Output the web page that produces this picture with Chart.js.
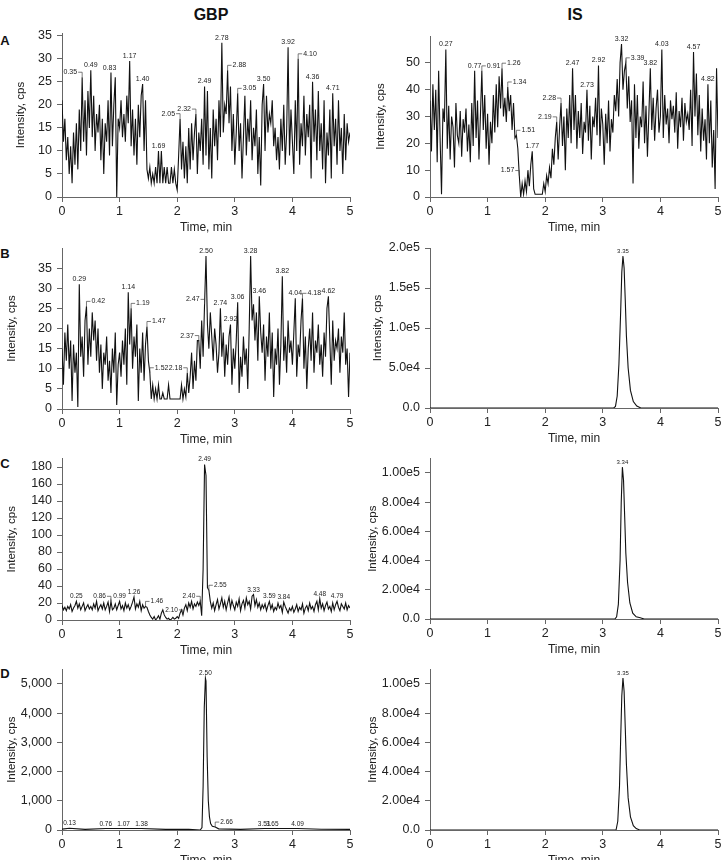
<!DOCTYPE html>
<html>
<head>
<meta charset="utf-8">
<script src="https://cdn.jsdelivr.net/npm/chart.js@4.4.1/dist/chart.umd.min.js"></script>
<style>
  body { margin: 0; width: 727px; height: 860px; overflow: hidden; background: #fff; position: relative;
         font-family: "Liberation Sans", Arial, sans-serif; }
  canvas { position: absolute; }
  .head { position: absolute; font-weight: bold; color: #111; transform: translate(-50%, -50%); white-space: nowrap; }
</style>
</head>
<body>
<div class="head" style="left:211px; top:15px; font-size:16px;">GBP</div>
<div class="head" style="left:575px; top:15px; font-size:16px;">IS</div>
<div class="head" style="left:5px; top:40px; font-size:13px;">A</div>
<div class="head" style="left:5px; top:253px; font-size:13px;">B</div>
<div class="head" style="left:5px; top:463px; font-size:13px;">C</div>
<div class="head" style="left:5px; top:673px; font-size:13px;">D</div>
<script>
// sampling step of the noisy traces, min
const step = 0.025;

// GBP, panel A (blank)
const gbpA = [
  21, 12, 17, 8, 13, 5, 11, 3, 14, 7, 16, 6, 19, 10, 26, 12, 21, 9, 23, 15,
  27.5, 13, 22, 10, 18, 14, 20, 8, 17, 5, 16, 12, 21, 9, 27, 11, 20, 26, 0, 17,
  15, 21, 13, 18, 12, 22, 16, 29.5, 11, 19, 9, 17, 7, 20, 13, 22, 24.5, 10, 21, 6,
  4, 6.5, 3, 5, 3, 6.5, 3, 10, 3, 10, 3, 6.5, 3, 6.5, 3, 3, 6.5, 3, 6, 3,
  1.5, 9, 17, 6, 12, 4, 11, 3, 15, 6, 16, 8, 14, 18, 5, 14, 10, 17, 7, 24,
  9, 23, 6, 15, 4, 19, 11, 17, 8, 21, 13, 33.5, 14, 20, 18, 27.5, 16, 24, 10, 18,
  7, 14, 22.5, 10, 16, 4, 13, 22, 9, 17, 12, 21, 8, 15, 11, 19, 5, 13, 2.5, 20,
  24.5, 10, 22, 14, 18, 16, 21, 11, 15, 8, 13, 6, 17, 10, 20, 7, 14, 32.5, 9, 19,
  12, 5, 21, 10, 30, 7, 16, 11, 22, 9, 18, 13, 20, 4, 25, 12, 19, 8, 23, 10,
  16, 6, 21, 3, 14, 9, 19, 4, 22.5, 11, 17, 7, 21, 10, 15, 5, 18, 8, 16, 12,
  14
];
// IS, panel A
const isA = [
  36, 17, 42, 25, 40, 13, 47, 22, 1, 33, 28, 55, 18, 34, 14, 30, 26, 11, 35, 23,
  20, 32, 15, 29, 24, 33, 17, 27, 13, 35, 19, 47, 22, 36, 14, 30, 47, 25, 38, 18,
  31, 12, 28, 20, 38, 24, 42, 26, 45, 33, 48, 30, 37, 28, 41, 32, 38, 25, 35, 22,
  23, 18, 8, 0, 5, 1, 6, 2, 10, 4, 12, 17, 3, 1, 1, 1, 1, 1, 1, 5,
  2, 8, 5, 11, 7, 18, 12, 22, 28, 14, 26, 35, 19, 30, 10, 33, 22, 38, 20, 48,
  25, 38, 18, 32, 22, 35, 16, 28, 24, 40, 21, 34, 14, 30, 26, 37, 23, 49, 19, 33,
  27, 12, 31, 20, 36, 17, 29, 24, 38, 32, 44, 30, 50, 57, 40, 47, 50, 33, 45, 28,
  36, 5, 42, 22, 38, 18, 30, 26, 43, 20, 34, 15, 31, 48, 25, 37, 21, 33, 40, 24,
  30, 55, 22, 38, 27, 33, 20, 36, 29, 34, 24, 39, 18, 32, 26, 37, 21, 35, 28, 31,
  25, 40, 19, 54, 30, 46, 23, 38, 17, 33, 21, 29, 14, 42, 20, 36, 11, 25, 3, 48,
  22
];
// GBP, panel B
const gbpB = [
  15, 6, 19, 12, 21, 10, 17, 2, 16, 9, 14, 0.5, 31, 13, 18, 8, 22, 25.5, 11, 20,
  13, 24, 17, 22, 12, 20, 9, 16, 5, 14, 11, 18, 7, 12, 4, 15, 9, 19, 1, 11,
  14, 8, 17, 11, 20, 6, 29, 16, 25, 10, 18, 13, 21, 2, 15, 9, 19, 7, 16, 20.5,
  12, 9, 2.5, 6, 2.5, 5, 2.5, 6, 2.5, 2.5, 4, 2.5, 2.5, 2.5, 6, 2.5, 2.5, 2.5, 2.5, 2.5,
  2.5, 2.5, 2.5, 6, 2.5, 5, 3, 9, 4, 8, 14, 5, 12, 7, 17, 17, 10, 22, 13, 26,
  38, 21, 15, 24, 18, 12, 20, 16, 9, 14, 25, 13, 19, 8, 16, 11, 18, 21, 6, 15,
  10, 17, 26.5, 4, 13, 8, 18, 11, 15, 5, 20, 38, 22, 26, 17, 24, 12, 28, 19, 14,
  21, 7, 18, 13, 24, 10, 19, 3, 15, 11, 20, 6, 16, 33, 12, 18, 9, 22, 14, 17,
  11, 19, 27.5, 8, 16, 13, 22, 27.5, 10, 18, 5, 15, 20, 12, 24, 9, 17, 14, 21, 11,
  16, 8, 19, 13, 25, 28, 17, 6, 22, 12, 17, 15, 20, 9, 18, 14, 24, 11, 15, 3,
  14
];
// GBP, panel C
const gbpC = [
  17, 12, 15, 11, 16, 13, 18, 10, 14, 17, 22, 14, 19, 12, 16, 20, 11, 15, 18, 13,
  16, 12, 19, 14, 22, 11, 15, 18, 13, 20, 12, 16, 21, 10, 22, 12, 14, 19, 12, 17,
  22, 13, 17, 11, 20, 14, 18, 12, 16, 21, 27, 13, 19, 15, 22, 11, 18, 14, 16, 15,
  10, 6, 3, 1, 4, 0, 2, 5, 1, 8, 12, 6, 3, 1, 2, 0, 1, 3, 1, 2,
  4, 2, 8, 12, 6, 14, 18, 11, 20, 15, 22, 13, 19, 16, 21, 17, 22, 5, 60, 183,
  170, 38, 35, 22, 14, 20, 11, 18, 24, 13, 19, 26, 15, 22, 12, 20, 27, 14, 23, 17,
  12, 21, 16, 25, 11, 19, 23, 14, 26, 18, 22, 13, 28, 30, 17, 24, 15, 20, 12, 18,
  14, 19, 11, 17, 22, 13, 18, 10, 15, 12, 20, 14, 17, 9, 21, 16, 12, 8, 14, 11,
  16, 9, 13, 18, 10, 15, 12, 19, 8, 14, 17, 11, 20, 13, 16, 10, 18, 22, 12, 25,
  14, 19, 11, 17, 21, 13, 16, 10, 20, 12, 18, 22, 15, 11, 19, 16, 13, 20, 12, 17,
  14
];
// GBP, panel D (LLOQ peak)
const gbpDTimes  = [0, 0.13, 0.4, 0.76, 1.07, 1.38, 1.8, 2.2, 2.40, 2.43, 2.45, 2.47, 2.49, 2.50, 2.52, 2.54, 2.56, 2.58, 2.61, 2.66, 2.72, 3.1, 3.51, 3.65, 4.09, 4.5, 5];
const gbpDValues = [30, 60, 20, 50, 50, 50, 20, 25, 0, 80, 1500, 4200, 5200, 5100, 2500, 1000, 450, 220, 130, 100, 40, 20, 50, 50, 50, 25, 20];
// IS peaks, panels B-D
const isBTimes  = [0, 3.19, 3.22, 3.25, 3.28, 3.31, 3.33, 3.35, 3.37, 3.39, 3.41, 3.44, 3.48, 3.53, 3.59, 3.66, 5];
const isBValues = [0, 0, 2000, 15000, 55000, 120000, 170000, 190000, 175000, 135000, 90000, 50000, 22000, 8000, 2500, 0, 0];
const isCTimes  = [0, 3.21, 3.24, 3.27, 3.30, 3.32, 3.34, 3.36, 3.38, 3.40, 3.43, 3.47, 3.52, 3.58, 3.65, 3.72, 5];
const isCValues = [0, 0, 1500, 10000, 40000, 80000, 104000, 95000, 70000, 45000, 25000, 11000, 4000, 1500, 800, 0, 0];
const isDTimes  = [0, 3.23, 3.26, 3.29, 3.31, 3.33, 3.35, 3.37, 3.39, 3.41, 3.44, 3.48, 3.53, 3.58, 3.64, 5];
const isDValues = [0, 0, 6000, 30000, 62000, 92000, 104000, 95000, 70000, 45000, 22000, 9000, 3000, 1000, 0, 0];

// tick labels of the IS intensity axes
const isBTickLabels  = ['0.0', '5.0e4', '1.0e5', '1.5e5', '2.0e5'];
const isCDTickLabels = ['0.0', '2.00e4', '4.00e4', '6.00e4', '8.00e4', '1.00e5'];

// retention time labels: [time, intensity, text, side]
const gbpALabels = [
  [0.35, 26, '0.35', 'l'], [0.5, 27.5, '0.49', 'c'], [0.825, 27, '0.83', 'c'], [1.175, 29.5, '1.17', 'c'],
  [1.4, 24.5, '1.40', 'c'], [1.675, 10, '1.69', 'c'], [2.05, 17, '2.05', 'l'], [2.325, 18, '2.32', 'l'],
  [2.475, 24, '2.49', 'c'], [2.775, 33.5, '2.78', 'c'], [2.875, 27.5, '2.88', 'r'], [3.05, 22.5, '3.05', 'r'],
  [3.5, 24.5, '3.50', 'c'], [3.925, 32.5, '3.92', 'c'], [4.1, 30, '4.10', 'r'], [4.35, 25, '4.36', 'c'],
  [4.7, 22.5, '4.71', 'c']
];
const isALabels = [
  [0.275, 55, '0.27', 'c'], [0.775, 47, '0.77', 'c'], [0.9, 47, '0.91', 'r'], [1.25, 48, '1.26', 'r'],
  [1.35, 41, '1.34', 'r'], [1.5, 23, '1.51', 'r'], [1.55, 8, '1.57', 'l'], [1.775, 17, '1.77', 'c'],
  [2.2, 28, '2.19', 'l'], [2.275, 35, '2.28', 'l'], [2.475, 48, '2.47', 'c'], [2.725, 40, '2.73', 'c'],
  [2.925, 49, '2.92', 'c'], [3.325, 57, '3.32', 'c'], [3.4, 50, '3.39', 'r'], [3.825, 48, '3.82', 'c'],
  [4.025, 55, '4.03', 'c'], [4.575, 54, '4.57', 'c'], [4.825, 42, '4.82', 'c']
];
const gbpBLabels = [
  [0.3, 31, '0.29', 'c'], [0.425, 25.5, '0.42', 'r'], [1.15, 29, '1.14', 'c'], [1.2, 25, '1.19', 'r'],
  [1.475, 20.5, '1.47', 'r'], [1.525, 9, '1.52', 'r'], [2.175, 9, '2.18', 'l'], [2.375, 17, '2.37', 'l'],
  [2.475, 26, '2.47', 'l'], [2.5, 38, '2.50', 'c'], [2.75, 25, '2.74', 'c'], [2.925, 21, '2.92', 'c'],
  [3.05, 26.5, '3.06', 'c'], [3.275, 38, '3.28', 'c'], [3.425, 28, '3.46', 'c'], [3.825, 33, '3.82', 'c'],
  [4.05, 27.5, '4.04', 'c'], [4.175, 27.5, '4.18', 'r'], [4.625, 28, '4.62', 'c']
];
const gbpCLabels = [
  [0.25, 22, '0.25', 'c'], [0.85, 22, '0.86', 'l'], [1.0, 22, '0.99', 'c'], [1.25, 27, '1.26', 'c'],
  [1.45, 16, '1.46', 'r'], [2.1, 6, '2.10', 'l'], [2.4, 22, '2.40', 'l'], [2.475, 183, '2.49', 'c'],
  [2.55, 35, '2.55', 'r'], [3.325, 30, '3.33', 'c'], [3.6, 22, '3.59', 'c'], [3.85, 21, '3.84', 'c'],
  [4.475, 25, '4.48', 'c'], [4.775, 22, '4.79', 'c']
];
const gbpDLabels = [
  [0.13, 60, '0.13', 'c'], [0.76, 50, '0.76', 'c'], [1.07, 50, '1.07', 'c'], [1.38, 50, '1.38', 'c'],
  [2.49, 5200, '2.50', 'c'], [2.66, 100, '2.66', 'r'], [3.51, 50, '3.51', 'c'], [3.65, 50, '3.65', 'c'],
  [4.09, 50, '4.09', 'c']
];
const isBLabels = [[3.35, 190000, '3.35', 'c']];
const isCLabels = [[3.34, 104000, '3.34', 'c']];
const isDLabels = [[3.35, 104000, '3.35', 'c']];

const FONT = '"Liberation Sans", Arial, sans-serif';
Chart.defaults.font.family = FONT;
Chart.defaults.color = '#222';

function onGrid(values) {
  return values.map((v, i) => ({ x: i * step, y: v }));
}
function pairs(times, values) {
  return times.map((t, i) => ({ x: t, y: values[i] }));
}

// writes the retention times over the peaks
function peakLabelPlugin(items, size) {
  return {
    id: 'peakLabels',
    afterDatasetsDraw(chart) {
      const { ctx, scales: { x, y } } = chart;
      ctx.save();
      ctx.font = size + 'px ' + FONT;
      ctx.fillStyle = '#222';
      ctx.strokeStyle = '#444';
      ctx.lineWidth = 0.7;
      items.forEach(([t, v, text, side]) => {
        const px = x.getPixelForValue(t);
        const py = y.getPixelForValue(v);
        if (side === 'c') {
          ctx.textAlign = 'center';
          ctx.textBaseline = 'bottom';
          ctx.fillText(text, px, py - 1.5);
          return;
        }
        const ty = py - 5;
        ctx.textBaseline = 'middle';
        ctx.beginPath();
        if (side === 'l') {
          ctx.moveTo(px - 4, ty); ctx.lineTo(px, ty); ctx.lineTo(px, py);
          ctx.textAlign = 'right';
          ctx.fillText(text, px - 5, ty);
        } else {
          ctx.moveTo(px, py); ctx.lineTo(px, ty); ctx.lineTo(px + 4, ty);
          ctx.textAlign = 'left';
          ctx.fillText(text, px + 5, ty);
        }
        ctx.stroke();
      });
      ctx.restore();
    }
  };
}

const panels = [
  { data: onGrid(gbpA), left: 0, width: 360, yWidth: 62, chartTop: 33, chartBottom: 197,
    yMax: 35.6, yStep: 5, yTickMax: 35, titleX: 21, labels: gbpALabels, labelSize: 7 },
  { data: onGrid(isA), left: 365, width: 362, yWidth: 65, chartTop: 36, chartBottom: 197,
    yMax: 60, yStep: 10, yTickMax: 50, titleX: 16, labels: isALabels, labelSize: 7 },
  { data: onGrid(gbpB), left: 0, width: 360, yWidth: 62, chartTop: 248, chartBottom: 409,
    yMax: 40, yStep: 5, yTickMax: 35, titleX: 12, labels: gbpBLabels, labelSize: 7 },
  { data: pairs(isBTimes, isBValues), left: 365, width: 362, yWidth: 65, chartTop: 248, chartBottom: 408,
    yMax: 200000, yStep: 50000, yTickMax: 200000, titleX: 13, tickText: isBTickLabels, labels: isBLabels, labelSize: 6 },
  { data: onGrid(gbpC), left: 0, width: 360, yWidth: 62, chartTop: 458.5, chartBottom: 620,
    yMax: 190, yStep: 20, yTickMax: 180, titleX: 12, labels: gbpCLabels, labelSize: 6.5 },
  { data: pairs(isCTimes, isCValues), left: 365, width: 362, yWidth: 65, chartTop: 458.4, chartBottom: 619,
    yMax: 110000, yStep: 20000, yTickMax: 100000, titleX: 8, tickText: isCDTickLabels, labels: isCLabels, labelSize: 6 },
  { data: pairs(gbpDTimes, gbpDValues), left: 0, width: 360, yWidth: 62, chartTop: 669.4, chartBottom: 830,
    yMax: 5500, yStep: 1000, yTickMax: 5000, titleX: 12, comma: true, labels: gbpDLabels, labelSize: 6.5 },
  { data: pairs(isDTimes, isDValues), left: 365, width: 362, yWidth: 65, chartTop: 669.4, chartBottom: 830,
    yMax: 110000, yStep: 20000, yTickMax: 100000, titleX: 8, tickText: isCDTickLabels, labels: isDLabels, labelSize: 6 }
];

const X_HEIGHT = 42;
const tickFont = { size: 12.5, family: FONT };
const axisGrey = '#666';

panels.forEach(p => {
  const top = Math.floor(p.chartTop) - 18;
  const height = Math.round(p.chartBottom + X_HEIGHT - top);
  const cv = document.createElement('canvas');
  cv.width = p.width;
  cv.height = height;
  cv.style.left = p.left + 'px';
  cv.style.top = top + 'px';
  cv.style.width = p.width + 'px';
  cv.style.height = height + 'px';
  document.body.appendChild(cv);

  new Chart(cv, {
    type: 'line',
    data: {
      datasets: [{
        data: p.data,
        borderColor: '#111',
        borderWidth: 1.1,
        pointRadius: 0,
        tension: 0,
        fill: false
      }]
    },
    options: {
      responsive: false,
      animation: false,
      events: [],
      layout: { padding: { top: p.chartTop - top, right: p.width - p.yWidth - 288, left: 0, bottom: 0 } },
      plugins: { legend: { display: false }, tooltip: { enabled: false } },
      scales: {
        x: {
          type: 'linear', min: 0, max: 5,
          ticks: { stepSize: 1, font: tickFont, padding: 2, maxRotation: 0 },
          grid: { drawOnChartArea: false, tickLength: 5, color: axisGrey },
          border: { color: axisGrey, width: 1 },
          title: { display: true, text: 'Time, min', font: { size: 12, family: FONT }, padding: { top: 2, bottom: 4 } },
          afterFit: s => { s.height = X_HEIGHT; }
        },
        y: {
          type: 'linear', min: 0, max: p.yMax,
          ticks: {
            font: tickFont, padding: 5, autoSkip: false,
            callback: v => {
              if (p.tickText) return p.tickText[Math.round(v / p.yStep)];
              if (p.comma) return v.toLocaleString('en-US');
              return String(v);
            }
          },
          // ticks at every step up to the last labelled value
          afterBuildTicks: s => {
            const ticks = [];
            for (let k = 0; k * p.yStep <= p.yTickMax + 1e-9; k++) ticks.push({ value: k * p.yStep });
            s.ticks = ticks;
          },
          grid: { drawOnChartArea: false, tickLength: 5, color: axisGrey },
          border: { color: axisGrey, width: 1 },
          title: { display: true, text: 'Intensity, cps', font: { size: 11.5, family: FONT },
                   padding: { top: p.titleX - 6.9, bottom: 0 } },
          afterFit: s => { s.width = p.yWidth; }
        }
      }
    },
    plugins: [peakLabelPlugin(p.labels, p.labelSize)]
  });
});
</script>
</body>
</html>
